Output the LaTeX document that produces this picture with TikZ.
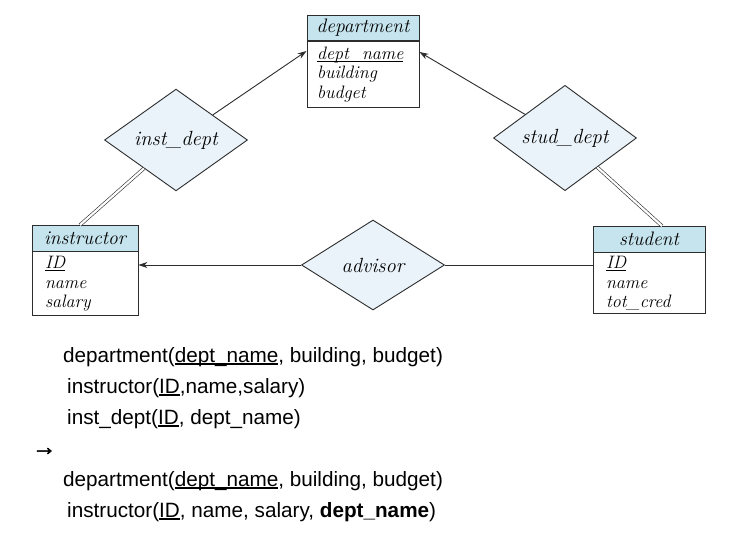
\documentclass[tikz,border=0pt]{standalone}
\usepackage{fontspec}
\newfontfamily\arialf{Liberation Sans}
\newfontfamily\arrf[FakeBold=2.2]{Liberation Sans}
\usetikzlibrary{shapes.geometric,arrows.meta,calc}
\definecolor{hdr}{RGB}{198,228,238}
\definecolor{dia}{RGB}{234,243,250}
\definecolor{ln}{RGB}{45,45,45}
\newcommand\erul[1]{\setbox0\hbox{#1}\rlap{\rule[-2.2pt]{\wd0}{0.8pt}}\box0}
\newcommand\txul[1]{\setbox0\hbox{#1}\rlap{\rule[-2.6pt]{\wd0}{1.3pt}}\box0}
\tikzset{
  hdrbox/.style={draw=ln, line width=0.9pt, fill=hdr, inner sep=0pt,
    font=\itshape\fontsize{19.5}{19.5}\selectfont},
  bodybox/.style={draw=ln, line width=0.9pt, fill=white, inner ysep=0pt,
    align=left, font=\itshape\fontsize{18}{19.5}\selectfont},
  rel/.style={diamond, draw=ln, line width=0.9pt, fill=dia, inner sep=0pt,
    minimum width=143pt, minimum height=90pt,
    font=\itshape\fontsize{20.5}{20.5}\selectfont},
  conn/.style={draw=ln, line width=0.9pt},
  arr/.style={conn, -{Stealth[length=9pt,width=6pt]}},
  dbl/.style={draw=ln, line width=0.6pt, double=white, double distance=2.2pt},
  txt/.style={anchor=base west, inner sep=0pt, font=\arialf\fontsize{20.7}{24}\selectfont}
}
\begin{document}
\begin{tikzpicture}[x=1pt,y=-1pt]
\useasboundingbox[fill=white] (0,0) rectangle (754,548);

% department
\node[hdrbox, minimum width=112pt, minimum height=25pt] (deph) at (363,28) {department};
\node[bodybox, text width=92pt, inner xsep=10pt, minimum height=66pt, anchor=north] (depb) at (deph.south) {\erul{dept\_name}\\building\\budget};

% instructor
\node[hdrbox, minimum width=106pt, minimum height=26pt] (insh) at (85,238) {instructor};
\node[bodybox, text width=80pt, inner xsep=13pt, minimum height=64pt, anchor=north] (insb) at (insh.south) {\erul{ID}\\name\\salary};

% student
\node[hdrbox, minimum width=112pt, minimum height=26pt] (stuh) at (649,239) {student};
\node[bodybox, text width=86pt, inner xsep=13pt, minimum height=61pt, anchor=north] (stub) at (stuh.south) {\erul{ID}\\name\\tot\_cred};

% relationships
\node[rel] (inst) at (176,140) {inst\_dept};
\node[rel] (stud) at (565,138) {stud\_dept};
\node[rel] (adv) at (373,265) {advisor};

% connector end points
\coordinate (dpL) at (depb.north west |- 0,51);
\coordinate (dpR) at (depb.north east |- 0,52);
\coordinate (inT) at (80,225);
\coordinate (stT) at (662,226);

\draw[arr] (inst) -- (dpL);
\draw[arr] (stud) -- (dpR);
\draw[dbl] (inst) -- (inT);
\draw[dbl] (stud) -- (stT);
\draw[arr] (adv.west) -- (adv.west -| insb.east);
\draw[conn] (adv.east) -- (adv.east -| stub.west);

% text
\node[txt] (t1) at (63,362) {department(\txul{dept\_name}, building, budget)};
\node[txt] (t2) at (67,393) {instructor(\txul{ID},name,salary)};
\node[txt] (t3) at (67,424) {inst\_dept(\txul{ID}, dept\_name)};
\node[txt, font=\arrf\fontsize{24}{24}\selectfont] (t4) at (32,455) {→};
\node[txt] (t5) at (63,486) {department(\txul{dept\_name}, building, budget)};
\node[txt] (t6) at (67,517) {instructor(\txul{ID}, name, salary, \textbf{dept\_name})};
\end{tikzpicture}
\end{document}
